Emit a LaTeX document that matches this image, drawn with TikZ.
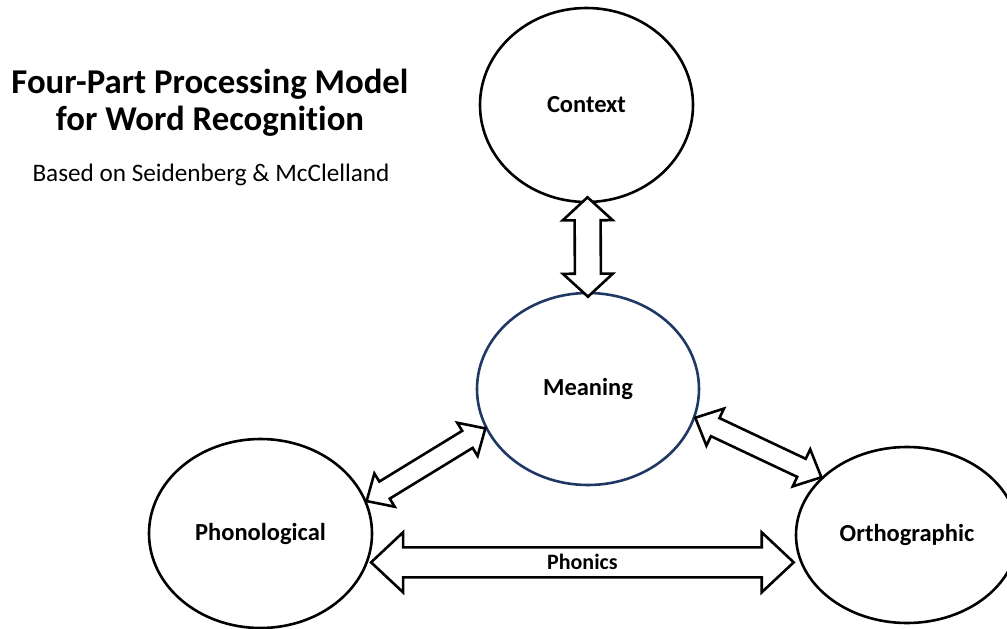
\documentclass[tikz,border=0pt]{standalone}
\usepackage{fontspec}
\setmainfont{Carlito}[Ligatures=NoCommon]
\usetikzlibrary{calc,shapes.geometric}
\definecolor{navy}{RGB}{32,56,100}
\newcommand\dblarrow[5]{%
  \draw[blockarrow] (#1) -- ($(#1)!#3!(#2)!#4!90:(#2)$) -- ($(#1)!#3!(#2)!#5!90:(#2)$)
    -- ($(#2)!#3!(#1)!#5!-90:(#1)$) -- ($(#2)!#3!(#1)!#4!-90:(#1)$) -- (#2)
    -- ($(#2)!#3!(#1)!#4!90:(#1)$) -- ($(#2)!#3!(#1)!#5!90:(#1)$)
    -- ($(#1)!#3!(#2)!#5!-90:(#2)$) -- ($(#1)!#3!(#2)!#4!-90:(#2)$) -- cycle;}
\tikzset{
  bub/.style={ellipse, draw=black, line width=2.6pt, fill=white, inner sep=0pt,
    font=\bfseries\fontsize{24.5}{29}\selectfont},
  blockarrow/.style={draw=black, fill=white, line width=2.6pt, line join=miter},
  titletext/.style={anchor=base, inner sep=0pt, font=\bfseries\fontsize{34.8}{37}\selectfont},
  subtext/.style={anchor=base, inner sep=0pt, font=\fontsize{25.2}{29}\selectfont},
  lbl/.style={inner sep=0pt, font=\bfseries\fontsize{22}{26}\selectfont}
}
\begin{document}
\begin{tikzpicture}[x=1pt,y=-1pt]
\useasboundingbox (0,0) rectangle (1007,629);
\node[titletext] (t1) at (210,93.3) {Four-Part Processing Model};
\node[titletext] (t2) at (210,130) {for Word Recognition};
\node[subtext] (st) at (211,181.7) {Based on Seidenberg \& McClelland};

\node[bub, minimum width=213pt, minimum height=194pt] (ctx) at (586.5,105) {Context};
\node[bub, draw=navy, minimum width=222pt, minimum height=192pt] (mea) at (588,389) {Meaning};
\node[bub, minimum width=223pt, minimum height=189pt] (phon) at (260.5,533.5) {Phonological};
\node[bub, minimum width=222pt, minimum height=176pt] (orth) at (907,535) {Orthographic};

\coordinate (v1) at ($(ctx.south)+(1,-6)$);
\coordinate (v2) at ($(mea.north)+(0,5)$);
\dblarrow{v1}{v2}{23pt}{25pt}{13pt}

\coordinate (p1) at (phon.17);
\coordinate (m1) at (mea.201);
\dblarrow{p1}{m1}{21pt}{19.5pt}{10pt}

\coordinate (m2) at (mea.345);
\coordinate (o1) at (orth.146);
\dblarrow{m2}{o1}{22pt}{20.5pt}{10pt}

\coordinate (h1) at ($(phon.345)+(3,0)$);
\coordinate (h2) at ($(h1 -| orth.west)+(-1,0)$);
\dblarrow{h1}{h2}{32pt}{30pt}{15pt}
\node[lbl] (phonics) at ($(h1)!0.5!(h2)$) {Phonics};
\end{tikzpicture}
\end{document}
